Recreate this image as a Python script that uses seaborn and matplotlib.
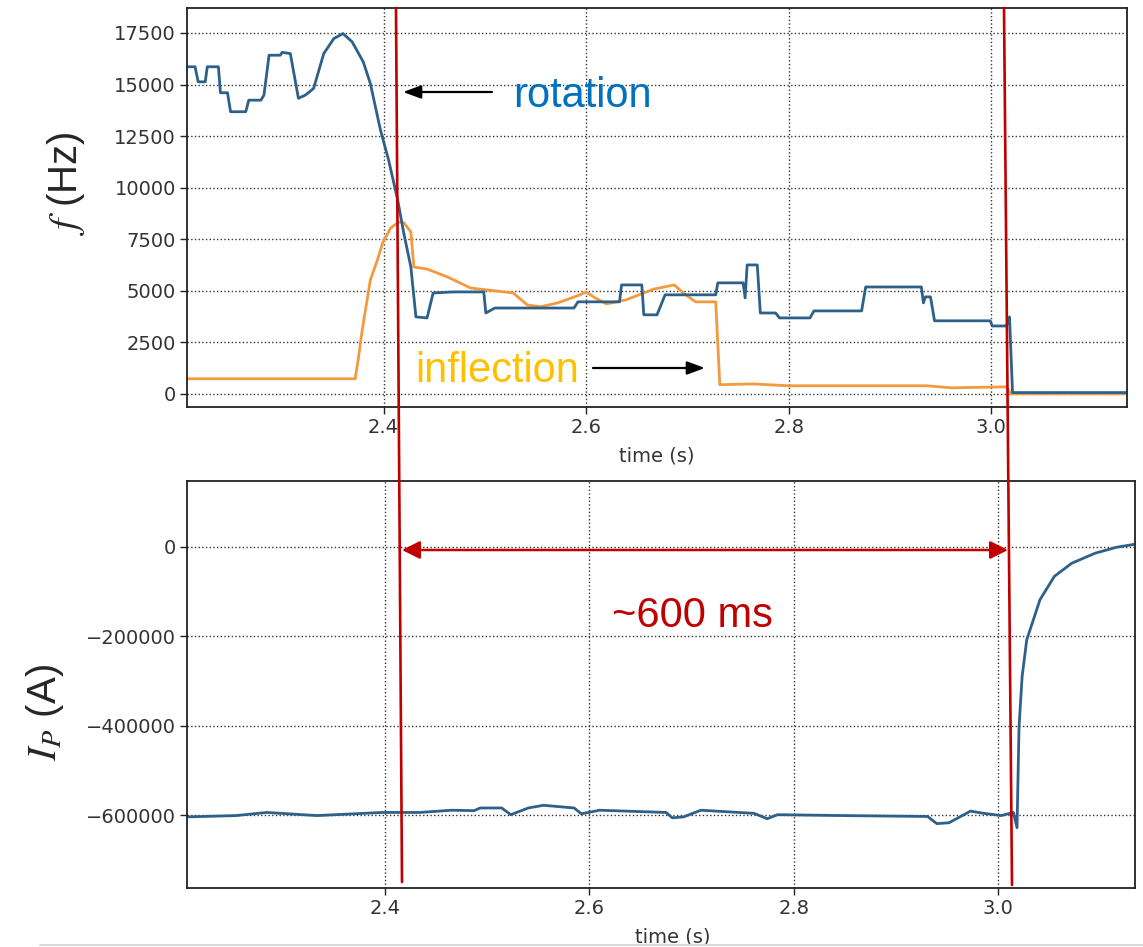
import matplotlib
matplotlib.use("Agg")
import matplotlib.pyplot as plt
import seaborn as sns
import numpy as np
import pandas as pd
from matplotlib.patches import FancyArrowPatch
from matplotlib.lines import Line2D

# ---------------- data ----------------
rot_t = [2.207, 2.214, 2.217, 2.224, 2.226, 2.237, 2.239, 2.246, 2.249, 2.264,
         2.267, 2.279, 2.282, 2.287, 2.298, 2.300, 2.308, 2.316, 2.323, 2.331,
         2.341, 2.351, 2.360, 2.369, 2.380, 2.387, 2.397, 2.405, 2.414, 2.420,
         2.427, 2.432, 2.443, 2.449, 2.469, 2.499, 2.501, 2.510, 2.588, 2.592,
         2.633, 2.635, 2.655, 2.657, 2.670, 2.678, 2.728, 2.730, 2.755, 2.757,
         2.759, 2.769, 2.772, 2.787, 2.791, 2.821, 2.825, 2.872, 2.876, 2.931,
         2.933, 2.935, 2.940, 2.944, 2.999, 3.001, 3.015, 3.018, 3.021, 3.134]
rot_f = [15860, 15860, 15130, 15130, 15860, 15860, 14600, 14600, 13680, 13680,
         14240, 14240, 14490, 16420, 16420, 16560, 16500, 14330, 14490, 14810,
         16500, 17230, 17470, 17070, 16100, 15050, 12790, 11340, 9400, 7790,
         6150, 3730, 3680, 4890, 4940, 4940, 3920, 4160, 4160, 4460,
         4460, 5280, 5280, 3830, 3830, 4800, 4800, 5380, 5380, 4650,
         6250, 6250, 3920, 3920, 3680, 3680, 4020, 4020, 5180, 5180,
         4410, 4700, 4700, 3540, 3540, 3290, 3290, 3730, 60, 60]

inf_t = [2.207, 2.372, 2.375, 2.379, 2.387, 2.394, 2.399, 2.407, 2.415, 2.420,
         2.427, 2.430, 2.443, 2.463, 2.486, 2.528, 2.542, 2.555, 2.572, 2.594,
         2.600, 2.609, 2.620, 2.639, 2.667, 2.687, 2.696, 2.708, 2.728, 2.732,
         2.764, 2.800, 2.936, 2.961, 3.015, 3.019, 3.134]
inf_f = [730, 730, 1650, 3100, 5520, 6490, 7300, 8040, 8330, 8300,
         7850, 6150, 6050, 5670, 5130, 4890, 4310, 4220, 4410, 4800,
         4940, 4650, 4360, 4550, 5080, 5280, 4890, 4460, 4460, 440,
         480, 390, 390, 290, 340, 0, 0]

ip_t = [2.205, 2.254, 2.284, 2.333, 2.397, 2.434, 2.465, 2.487, 2.493, 2.514,
        2.523, 2.540, 2.555, 2.585, 2.592, 2.610, 2.675, 2.681, 2.692, 2.709,
        2.761, 2.774, 2.784, 2.849, 2.931, 2.940, 2.952, 2.973, 2.986, 3.003,
        3.015, 3.0185, 3.0205, 3.0235, 3.028, 3.041, 3.055, 3.072, 3.095, 3.116,
        3.134]
ip_a = [-604000, -601000, -594000, -601000, -594000, -594000, -589000, -590000, -584000, -584000,
        -599000, -584000, -578000, -584000, -597000, -589000, -594000, -606000, -604000, -589000,
        -596000, -608000, -599000, -601000, -603000, -619000, -617000, -591000, -596000, -601000,
        -594000, -628000, -401500, -290000, -208000, -118000, -66000, -36500, -14000, -700,
        6000]

time_ticks = [2.4, 2.6, 2.8, 3.0]
time_tick_labels = ["2.4", "2.6", "2.8", "3.0"]
f_ticks = [0, 2500, 5000, 7500, 10000, 12500, 15000, 17500]
ip_ticks = [-600000, -400000, -200000, 0]

# ---------------- style ----------------
sns.set_theme(style="ticks")
plt.rcParams["font.family"] = ["DejaVu Sans"]
plt.rcParams["mathtext.fontset"] = "stix"

W, H = 1143, 947
fig = plt.figure(figsize=(W / 100, H / 100), dpi=100)
fig.patch.set_facecolor("white")

def fx(x):
    return x / W

def fy(y):
    return 1 - y / H

ax1 = fig.add_axes([fx(187), fy(407), (1127 - 187) / W, (407 - 8) / H])
ax2 = fig.add_axes([fx(187), fy(888), (1135 - 187) / W, (888 - 481) / H])

blue = "#2d6189"
orange = "#f39a3e"

df_rot = pd.DataFrame({"t": rot_t, "f": rot_f})
df_inf = pd.DataFrame({"t": inf_t, "f": inf_f})
df_ip = pd.DataFrame({"t": ip_t, "I": ip_a})

sns.lineplot(data=df_inf, x="t", y="f", ax=ax1, color=orange, linewidth=2.0,
             estimator=None, sort=False)
sns.lineplot(data=df_rot, x="t", y="f", ax=ax1, color=blue, linewidth=2.0,
             estimator=None, sort=False)
sns.lineplot(data=df_ip, x="t", y="I", ax=ax2, color=blue, linewidth=2.0,
             estimator=None, sort=False)

for ax in (ax1, ax2):
    ax.set_xlim(2.206, 3.134)
    ax.set_xticks(time_ticks)
    ax.set_xticklabels(time_tick_labels)
    ax.grid(True, linestyle=":", color="#333333", linewidth=1.0)
    ax.tick_params(axis="both", labelsize=14, labelcolor="#333333",
                   length=5, width=1.0, color="#222222", direction="out", pad=3)
    for s in ax.spines.values():
        s.set_color("#222222")
        s.set_linewidth(1.3)
        s.set_visible(True)
    ax.set_xlabel("time (s)", fontsize=14, color="#333333", va="center")

ax1.set_ylim(-640, 18710)
ax1.set_yticks(f_ticks)
ax1.set_yticklabels([str(v) for v in f_ticks])
ax2.set_ylim(-763000, 147500)
ax2.set_yticks(ip_ticks)
ax2.ticklabel_format(axis="y", style="plain", useOffset=False)

ax1.xaxis.set_label_coords(0.5, (407 - 456) / 399)
ax2.xaxis.set_label_coords((673 - 187) / 948, (888 - 937) / 407)

ax1.set_ylabel(r"$f$ (Hz)", fontsize=29, family="Liberation Sans", va="center")
ax1.yaxis.set_label_coords((66 - 187) / 940, (407 - 183) / 399)
ax2.set_ylabel(r"$I_P$ (A)", fontsize=29, family="Liberation Sans", va="center")
ax2.yaxis.set_label_coords((45 - 187) / 948, (888 - 712) / 407)

# ---------------- annotations (overlay in figure pixels) ----------------
red = "#c00000"
fig.add_artist(Line2D([fx(396), fx(402)], [fy(8), fy(882)], color=red, lw=1.9,
                      transform=fig.transFigure))
fig.add_artist(Line2D([fx(1004), fx(1012)], [fy(8), fy(885)], color=red, lw=1.9,
                      transform=fig.transFigure))

fig.add_artist(FancyArrowPatch((fx(402), fy(550)), (fx(1008), fy(550)),
                               transform=fig.transFigure,
                               arrowstyle="<|-|>,head_length=0.6,head_width=0.3",
                               mutation_scale=18, color=red, lw=1.8,
                               shrinkA=0, shrinkB=0))
fig.add_artist(FancyArrowPatch((fx(492), fy(92)), (fx(403), fy(92)),
                               transform=fig.transFigure,
                               arrowstyle="-|>,head_length=0.6,head_width=0.22",
                               mutation_scale=18, color="black", lw=1.6,
                               shrinkA=0, shrinkB=0))
fig.add_artist(FancyArrowPatch((fx(593), fy(368)), (fx(705), fy(368)),
                               transform=fig.transFigure,
                               arrowstyle="-|>,head_length=0.6,head_width=0.22",
                               mutation_scale=18, color="black", lw=1.6,
                               shrinkA=0, shrinkB=0))

fig.text(fx(513), fy(107), "rotation", color="#0070c0", fontsize=30,
         family="Liberation Sans", ha="left", va="baseline")
fig.text(fx(415), fy(382), "inflection", color="#ffc000", fontsize=30,
         family="Liberation Sans", ha="left", va="baseline")
fig.text(fx(612), fy(627), "~600 ms", color=red, fontsize=30,
         family="Liberation Sans", ha="left", va="baseline")

fig.add_artist(Line2D([fx(40), fx(1143)], [fy(945), fy(945)], color="#d8d8d8",
                      lw=1.5, transform=fig.transFigure))

fig.savefig("out.png", dpi=100)
